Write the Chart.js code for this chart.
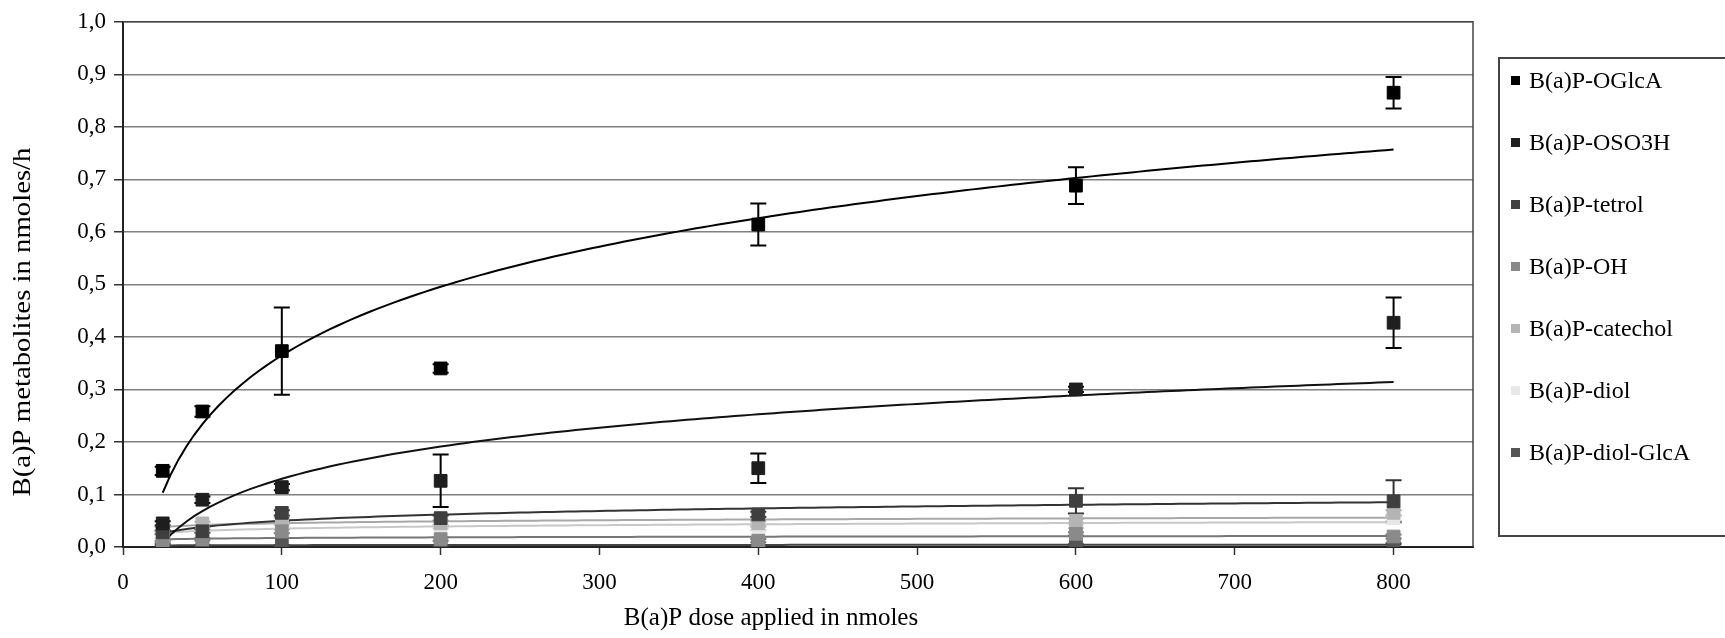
<!DOCTYPE html>
<html>
<head>
<meta charset="utf-8">
<script src="https://cdn.jsdelivr.net/npm/chart.js@4.4.1/dist/chart.umd.min.js"></script>
<style>
  html, body { margin: 0; padding: 0; background: #fff; overflow: hidden; }
  #wrap { position: relative; width: 1725px; height: 638px; }
  #legend { position: absolute; left: 1498px; top: 57px; width: 260px; height: 480px; border: 2px solid #444; box-sizing: border-box; font-family: "Liberation Serif", "Times New Roman", serif; font-size: 24px; color: #000; }
  .item { position: absolute; left: 11px; height: 28px; line-height: 28px; white-space: nowrap; }
  .item span.box { display: inline-block; width: 9px; height: 9px; margin-right: 9px; vertical-align: 3px; }
</style>
</head>
<body>
<div id="wrap">
  <canvas id="myChart" width="1725" height="638"></canvas>
  <div id="legend"></div>
</div>
<script>
const doses = [25, 50, 100, 200, 400, 600, 800];
const seriesNames = ["B(a)P-OGlcA", "B(a)P-OSO3H", "B(a)P-tetrol", "B(a)P-OH", "B(a)P-catechol", "B(a)P-diol", "B(a)P-diol-GlcA"];
const seriesColors = ["#000000", "#1e1e1e", "#3f3f3f", "#8a8a8a", "#b4b4b4", "#e8e8e8", "#555555"];
const trendColors = ["#000000", "#111111", "#333333", "#777777", "#a8a8a8", "#c8c8c8", "#444444"];

const oglca = [0.145, 0.258, 0.373, 0.340, 0.614, 0.688, 0.865];
const oglcaErr = [0.008, 0.010, 0.083, 0.008, 0.040, 0.035, 0.030];
const oso3h = [0.045, 0.090, 0.114, 0.126, 0.150, 0.300, 0.427];
const oso3hErr = [0.004, 0.006, 0.006, 0.050, 0.028, 0.005, 0.048];
const tetrol = [0.028, 0.030, 0.065, 0.055, 0.062, 0.088, 0.087];
const tetrolErr = [0.003, 0.003, 0.005, 0.005, 0.005, 0.024, 0.040];
const oh = [0.010, 0.015, 0.030, 0.015, 0.012, 0.025, 0.020];
const ohErr = [0.002, 0.002, 0.004, 0.003, 0.003, 0.003, 0.004];
const catechol = [0.035, 0.045, 0.052, 0.045, 0.045, 0.050, 0.065];
const catecholErr = [0.003, 0.003, 0.004, 0.004, 0.004, 0.004, 0.005];
const diol = [0.020, 0.035, 0.045, 0.038, 0.035, 0.040, 0.055];
const diolErr = [0.003, 0.003, 0.003, 0.003, 0.003, 0.004, 0.005];
const diolGlcA = [0.004, 0.003, 0.003, 0.003, 0.003, 0.004, 0.006];
const diolGlcAErr = [0.001, 0.001, 0.001, 0.001, 0.001, 0.001, 0.001];

const yTicks = [0, 0.1, 0.2, 0.3, 0.4, 0.5, 0.6, 0.7, 0.8, 0.9, 1.0];
const xTitle = "B(a)P dose applied in nmoles";
const yTitle = "B(a)P metabolites in nmoles/h";

const allValues = [oglca, oso3h, tetrol, oh, catechol, diol, diolGlcA];
const allErrors = [oglcaErr, oso3hErr, tetrolErr, ohErr, catecholErr, diolErr, diolGlcAErr];

const fontFamily = '"Liberation Serif", "Times New Roman", serif';

// logarithmic trendline (least squares on ln x), like Excel does it
function logFit(xs, ys) {
  const lx = xs.map(Math.log);
  const mx = lx.reduce((a, b) => a + b, 0) / lx.length;
  const my = ys.reduce((a, b) => a + b, 0) / ys.length;
  let sxy = 0, sxx = 0;
  for (let i = 0; i < lx.length; i++) {
    sxy += (lx[i] - mx) * (ys[i] - my);
    sxx += (lx[i] - mx) * (lx[i] - mx);
  }
  const a = sxy / sxx;
  return { a: a, b: my - a * mx };
}

function trendPoints(values) {
  const fit = logFit(doses, values);
  const pts = [];
  for (let x = doses[0]; x <= doses[doses.length - 1]; x += 5) {
    pts.push({ x: x, y: fit.a * Math.log(x) + fit.b });
  }
  return pts;
}

const datasets = [];
allValues.forEach((values, i) => {
  datasets.push({
    type: "scatter",
    label: seriesNames[i],
    data: doses.map((d, j) => ({ x: d, y: values[j] })),
    backgroundColor: seriesColors[i],
    borderColor: seriesColors[i],
    borderWidth: 1,
    pointStyle: "rect",
    pointRadius: 9,
    order: i,
  });
});
allValues.forEach((values, i) => {
  datasets.push({
    type: "line",
    label: seriesNames[i] + " trend",
    data: trendPoints(values),
    borderColor: trendColors[i],
    borderWidth: 2,
    pointRadius: 0,
    fill: false,
    tension: 0,
    order: 20 + i,
  });
});

const errorBars = {
  id: "errorBars",
  beforeDatasetsDraw(chart) {
    const { ctx, chartArea, scales: { x, y } } = chart;
    ctx.save();
    ctx.beginPath();
    ctx.rect(chartArea.left, chartArea.top, chartArea.right - chartArea.left, chartArea.bottom - chartArea.top);
    ctx.clip();
    ctx.lineWidth = 2;
    for (let i = allValues.length - 1; i >= 0; i--) {
      ctx.strokeStyle = i < 2 ? "#000" : trendColors[i];
      for (let j = 0; j < doses.length; j++) {
        const px = x.getPixelForValue(doses[j]);
        const top = y.getPixelForValue(allValues[i][j] + allErrors[i][j]);
        const bot = y.getPixelForValue(allValues[i][j] - allErrors[i][j]);
        ctx.beginPath();
        ctx.moveTo(px, top); ctx.lineTo(px, bot);
        ctx.moveTo(px - 8, top); ctx.lineTo(px + 8, top);
        ctx.moveTo(px - 8, bot); ctx.lineTo(px + 8, bot);
        ctx.stroke();
      }
    }
    ctx.restore();
  },
  afterDraw(chart) {
    const { ctx, chartArea } = chart;
    ctx.save();
    ctx.strokeStyle = "#444";
    ctx.lineWidth = 1.5;
    ctx.beginPath();
    ctx.moveTo(chartArea.left, chartArea.top);
    ctx.lineTo(chartArea.right, chartArea.top);
    ctx.lineTo(chartArea.right, chartArea.bottom);
    ctx.stroke();
    // axis titles, placed like in the original (not centred on the plot)
    ctx.fillStyle = "#000";
    ctx.textAlign = "center";
    ctx.textBaseline = "middle";
    ctx.font = "25px " + fontFamily;
    ctx.fillText(xTitle, 771, 618);
    ctx.translate(23, 322);
    ctx.rotate(-Math.PI / 2);
    ctx.scale(1.15, 1);
    ctx.fillText(yTitle, 0, 0);
    ctx.restore();
  },
};

new Chart(document.getElementById("myChart"), {
  type: "scatter",
  data: { datasets: datasets },
  options: {
    responsive: false,
    animation: false,
    layout: { padding: { top: 21, right: 252, left: 0, bottom: 0 } },
    plugins: {
      legend: { display: false },
      tooltip: { enabled: false },
    },
    scales: {
      x: {
        type: "linear",
        min: 0,
        max: 850,
        afterFit: (s) => { s.height = 91; },
        ticks: {
          stepSize: 100,
          includeBounds: false,
          color: "#000",
          padding: 14,
          font: { family: fontFamily, size: 23 },
        },
        grid: { drawOnChartArea: false, tickLength: 8, tickColor: "#333", tickWidth: 1.5 },
        border: { color: "#222", width: 2 },
      },
      y: {
        type: "linear",
        min: 0,
        max: 1,
        afterFit: (s) => { s.width = 123; },
        afterBuildTicks: (s) => { s.ticks = yTicks.map((v) => ({ value: v })); },
        ticks: {
          color: "#000",
          padding: 8,
          font: { family: fontFamily, size: 23 },
          callback: (v) => v.toFixed(1).replace(".", ","),
        },
        grid: { color: "#808080", lineWidth: 1.5, tickLength: 9, tickColor: "#333", tickWidth: 1.5 },
        border: { color: "#222", width: 2 },
      },
    },
  },
  plugins: [errorBars],
});

const legendRef = document.getElementById("legend");
seriesNames.forEach((name, i) => {
  const item = document.createElement("div");
  item.className = "item";
  item.style.top = (7 + i * 62) + "px";
  item.innerHTML = '<span class="box" style="background:' + seriesColors[i] + '"></span>' + name;
  legendRef.appendChild(item);
});
</script>
</body>
</html>
